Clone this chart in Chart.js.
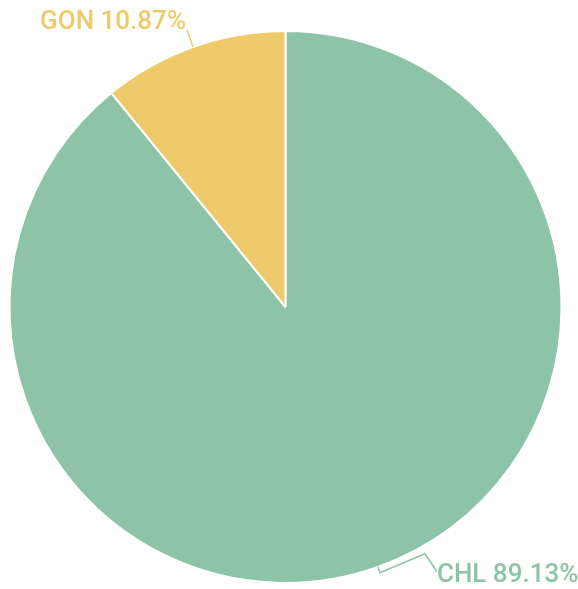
<!DOCTYPE html>
<html>
<head>
<meta charset="utf-8">
<script src="https://cdn.jsdelivr.net/npm/chart.js@4/dist/chart.umd.min.js"></script>
<style>
html,body{margin:0;padding:0;background:#fff;}
#wrap{width:578px;height:589px;position:relative;}
</style>
</head>
<body>
<div id="wrap"><canvas id="c" width="578" height="589"></canvas></div>
<script>
const categories = ["CHL", "GON"];
const values = [89.13, 10.87];
const labels = ["CHL 89.13%", "GON 10.87%"];
const colors = ["#8dc3a7", "#eeca6a"];

const labelPlugin = {
  id: 'pieLabels',
  afterDatasetsDraw(chart) {
    const ctx = chart.ctx;
    const meta = chart.getDatasetMeta(0);
    ctx.save();
    ctx.font = '500 26px Roboto, "Noto Sans", sans-serif';
    ctx.lineWidth = 1.5;
    meta.data.forEach((arc, i) => {
      const p = arc.getProps(['x','y','startAngle','endAngle','outerRadius'], true);
      const mid = (p.startAngle + p.endAngle) / 2;
      const cx = Math.cos(mid), sy = Math.sin(mid);
      const ex = p.x + p.outerRadius * cx, ey = p.y + p.outerRadius * sy;
      ctx.strokeStyle = colors[i];
      ctx.fillStyle = colors[i];
      ctx.beginPath();
      ctx.moveTo(ex, ey);
      if (i === 1) {
        const x1 = ex + 18 * cx, y1 = ey + 18 * sy;
        ctx.lineTo(x1, y1);
        ctx.stroke();
        ctx.textAlign = 'right';
        ctx.textBaseline = 'alphabetic';
        ctx.fillText(labels[i], x1 - 1, y1 - 1);
      } else {
        const x1 = ex + 6 * cx, y1 = ey + 6 * sy;
        const x2 = x1 + 45, y2 = y1 - 19;
        const x3 = x2 + 12, y3 = y2 + 18;
        ctx.lineTo(x1, y1);
        ctx.lineTo(x2, y2);
        ctx.lineTo(x3, y3);
        ctx.stroke();
        ctx.textAlign = 'left';
        ctx.textBaseline = 'alphabetic';
        ctx.fillText(labels[i], x3, y3 + 10);
      }
    });
    ctx.restore();
  }
};

new Chart(document.getElementById('c'), {
  type: 'pie',
  data: {
    labels: categories,
    datasets: [{
      data: values,
      backgroundColor: colors,
      borderColor: '#ffffff',
      borderWidth: 2
    }]
  },
  options: {
    responsive: false,
    animation: false,
    layout: { padding: { top: 30, left: 8.5, right: 15.5, bottom: 5 } },
    plugins: { legend: { display: false }, tooltip: { enabled: false } }
  },
  plugins: [labelPlugin]
});
</script>
</body>
</html>
